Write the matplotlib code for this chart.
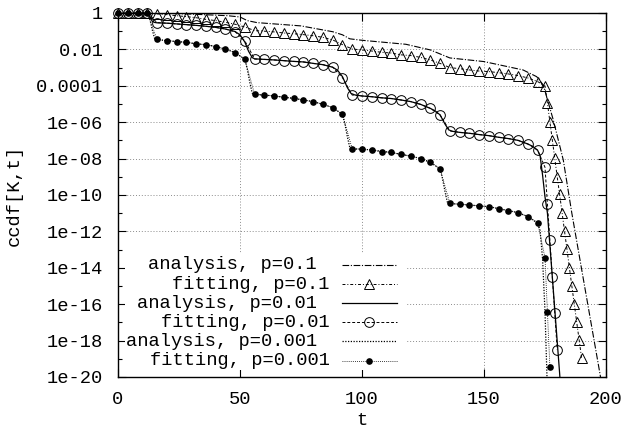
import matplotlib
matplotlib.use("Agg")
import matplotlib.pyplot as plt
from matplotlib.patches import Rectangle
import numpy as np

plt.rcParams['font.family'] = ['Liberation Mono', 'DejaVu Sans Mono']
plt.rcParams['font.size'] = 13.5

# grid of t for the fitted points
t_grid = [0, 4, 8, 12, 16, 20, 24, 28, 32, 36, 40, 44, 48, 52, 56, 60, 64, 68, 72, 76, 80, 84,
          88, 92, 96, 100, 104, 108, 112, 116, 120, 124, 128, 132, 136, 140, 144, 148, 152,
          156, 160, 164, 168, 172]

# fitting, log10(ccdf)
fit_t_01 = t_grid + [175, 176, 177, 178, 179, 180, 181, 182, 183, 184, 185, 186, 187, 188, 189, 190]
fit_v_01 = [0, 0, 0, 0,
            -0.05, -0.09, -0.15, -0.2, -0.26, -0.35, -0.42, -0.51, -0.62, -0.77,
            -0.97, -1.0, -1.04, -1.1, -1.14, -1.19, -1.25, -1.34, -1.48, -1.74,
            -1.98, -2.03, -2.09, -2.16, -2.2, -2.3, -2.34, -2.44, -2.58, -2.77,
            -3.0, -3.06, -3.13, -3.19, -3.22, -3.28, -3.35, -3.44, -3.57, -3.77,
            -4.01, -4.96, -5.97, -6.98, -7.98, -9.0, -9.96, -10.97, -11.98, -12.98,
            -13.99, -15.0, -15.99, -16.99, -17.97, -18.96]

fit_t_001 = t_grid + [175, 176, 177, 178, 179, 180]
fit_v_001 = [0, 0, 0, 0,
             -0.53, -0.56, -0.6, -0.64, -0.68, -0.73, -0.79, -0.88, -1.03, -1.54,
             -2.53, -2.55, -2.58, -2.62, -2.66, -2.69, -2.77, -2.84, -2.98, -3.55,
             -4.51, -4.56, -4.6, -4.66, -4.7, -4.78, -4.87, -5.02, -5.24, -5.6,
             -6.48, -6.56, -6.61, -6.68, -6.74, -6.83, -6.9, -7.0, -7.2, -7.53,
             -8.48, -10.5, -12.47, -14.5, -16.47, -18.5]

fit_t_0001 = t_grid + [175, 176, 177]
fit_v_0001 = [0, 0, 0, 0,
              -1.45, -1.52, -1.57, -1.61, -1.70, -1.74, -1.85, -1.99, -2.18, -2.55,
              -4.47, -4.51, -4.56, -4.63, -4.69, -4.78, -4.87, -5.02, -5.2, -5.57,
              -7.47, -7.47, -7.53, -7.62, -7.66, -7.77, -7.86, -8.0, -8.2, -8.57,
              -10.46, -10.51, -10.55, -10.6, -10.64, -10.75, -10.86, -10.97, -11.19, -11.52,
              -13.45, -16.45, -19.43]

# analysis curves, log10(ccdf)
ana_t_01 = [0, 13, 28, 45, 50, 53, 57, 75, 88, 92, 95, 100, 118, 128, 132, 136, 150, 166,
            171.6, 174.3, 178.4, 182.5, 186, 192, 197.5, 198.5]
ana_v_01 = [0, 0, -0.05, -0.15, -0.22, -0.42, -0.53, -0.71, -1.03, -1.2, -1.42, -1.5, -1.72,
            -2.03, -2.25, -2.47, -2.67, -3.13, -3.5, -3.96, -5.88, -8.08, -11.0, -15.6, -19.8, -20.6]

ana_t_001 = [0, 12, 13, 14, 15, 16, 20, 24, 28, 32, 36, 40, 44, 48, 50, 52, 53.5, 55, 56,
             60, 64, 68, 72, 76, 80, 84, 88, 90, 92, 94, 95.5, 97, 100, 104, 108, 112, 116,
             120, 124, 128, 130, 132, 134, 135.5, 137, 140, 144, 148, 152, 156, 160, 164,
             168, 170, 172, 173, 174, 175, 176, 178, 181, 181.5]
ana_v_001 = [0, 0, -0.2, -0.45, -0.52, -0.54, -0.56, -0.6, -0.64, -0.68, -0.73, -0.79, -0.88,
             -1.02, -1.2, -1.6, -2.1, -2.45, -2.52, -2.55, -2.58, -2.62, -2.66, -2.69, -2.77,
             -2.84, -2.98, -3.15, -3.5, -4.1, -4.42, -4.5, -4.56, -4.6, -4.66, -4.7, -4.78,
             -4.87, -5.02, -5.24, -5.38, -5.6, -6.1, -6.42, -6.5, -6.56, -6.61, -6.68, -6.74,
             -6.83, -6.9, -7.0, -7.2, -7.33, -7.55, -7.85, -8.9, -10.1, -11.0, -14.5, -19.8, -20.8]

ana_t_0001 = [0, 12, 13, 14, 15, 16, 20, 24, 28, 32, 36, 40, 44, 48, 52, 53, 54, 55, 56,
              60, 64, 68, 72, 76, 80, 84, 88, 92, 93, 94, 95, 96, 100, 104, 108, 112, 116,
              120, 124, 128, 132, 133, 134, 135, 136, 140, 144, 148, 152, 156, 160, 164,
              168, 172, 173, 174, 175, 176]
ana_v_0001 = [0, 0, -0.3, -0.9, -1.4, -1.46, -1.52, -1.57, -1.61, -1.69, -1.74, -1.84, -1.98,
              -2.17, -2.55, -3.1, -3.8, -4.4, -4.48, -4.51, -4.56, -4.63, -4.69, -4.78, -4.87,
              -5.02, -5.2, -5.57, -6.1, -6.8, -7.4, -7.47, -7.48, -7.53, -7.6, -7.66, -7.77,
              -7.86, -8.0, -8.2, -8.57, -9.1, -9.8, -10.4, -10.47, -10.51, -10.55, -10.6,
              -10.64, -10.75, -10.86, -10.97, -11.19, -11.55, -11.95, -13.5, -16.4, -20.8]

labels = ["analysis, p=0.1", "fitting, p=0.1", "analysis, p=0.01",
          "fitting, p=0.01", "analysis, p=0.001", "fitting, p=0.001"]
ytick_vals = [1, 1e-2, 1e-4, 1e-6, 1e-8, 1e-10, 1e-12, 1e-14, 1e-16, 1e-18, 1e-20]
ytick_labels = ["1", "0.01", "0.0001", "1e-06", "1e-08", "1e-10", "1e-12",
                "1e-14", "1e-16", "1e-18", "1e-20"]
xtick_vals = [0, 50, 100, 150, 200]

styles = [
    dict(color='black', lw=0.8, ls=(0, (6, 1.5, 1, 1.5))),
    dict(color='black', lw=0.7, ls=(0, (3, 2, 1, 2)), marker='^', ms=6.5, mfc='none', mew=0.7),
    dict(color='black', lw=0.9, ls='-'),
    dict(color='black', lw=0.7, ls=(0, (3, 2)), marker='o', ms=7, mfc='none', mew=0.7),
    dict(color='black', lw=0.9, ls=(0, (1, 1.2))),
    dict(color='black', lw=0.6, ls=(0, (1, 1.5)), marker='o', ms=4.8, mfc='black', mew=0),
]

series = [(ana_t_01, ana_v_01, True), (fit_t_01, fit_v_01, False),
          (ana_t_001, ana_v_001, True), (fit_t_001, fit_v_001, False),
          (ana_t_0001, ana_v_0001, True), (fit_t_0001, fit_v_0001, False)]

fig = plt.figure(figsize=(6.23, 4.37), dpi=100)
ax = fig.add_axes([0.1894, 0.1373, 0.7833, 0.833])

for (t, v, clip), st in zip(series, styles):
    ax.plot(t, 10.0 ** np.array(v), clip_on=clip, zorder=3, **st)

ax.set_yscale('log')
ax.set_xlim(0, 200)
ax.set_ylim(1e-20, 1)
ax.set_yticks(ytick_vals)
ax.set_yticklabels(ytick_labels)
ax.set_yticks([10.0 ** -k for k in range(1, 20, 2)], minor=True)
ax.yaxis.set_minor_formatter(matplotlib.ticker.NullFormatter())
ax.set_xticks(xtick_vals)
ax.tick_params(which='both', direction='in', top=True, right=True, width=0.8)
ax.tick_params(which='major', length=6)
ax.tick_params(which='minor', length=3)
ax.tick_params(axis='y', pad=10.5)
ax.tick_params(axis='x', pad=10)
for s in ax.spines.values():
    s.set_linewidth(1.0)

ax.set_axisbelow(True)
ax.grid(True, which='major', color='0.55', ls=(0, (1, 2)), lw=0.7)

# key area blanks the grid, like gnuplot
ax.add_patch(Rectangle((0.014, 0.018), 0.578, 0.322, transform=ax.transAxes,
                       facecolor='white', edgecolor='none', zorder=1))

ax.set_xlabel("t")
ax.set_ylabel("ccdf[K,t]")
ax.xaxis.set_label_coords(0.5, -0.095)
ax.yaxis.set_label_coords(-0.195, 0.5)

# key
text_x = [0.4078, 0.4344, 0.4078, 0.4344, 0.4078, 0.4344]
y0 = 0.3077
dy = 0.0525
for i, (lab, st) in enumerate(zip(labels, styles)):
    y = y0 - i * dy
    ax.text(text_x[i], y, lab, transform=ax.transAxes, ha='right', va='center')
    line_st = {k: st[k] for k in ('color', 'lw', 'ls')}
    ax.plot([0.459, 0.572], [y, y], transform=ax.transAxes, clip_on=False, **line_st)
    if 'marker' in st:
        mk = {k: st[k] for k in ('color', 'marker', 'ms', 'mfc', 'mew')}
        ax.plot([0.515], [y], transform=ax.transAxes, clip_on=False, ls='none', **mk)

fig.savefig("out.png", dpi=100)
